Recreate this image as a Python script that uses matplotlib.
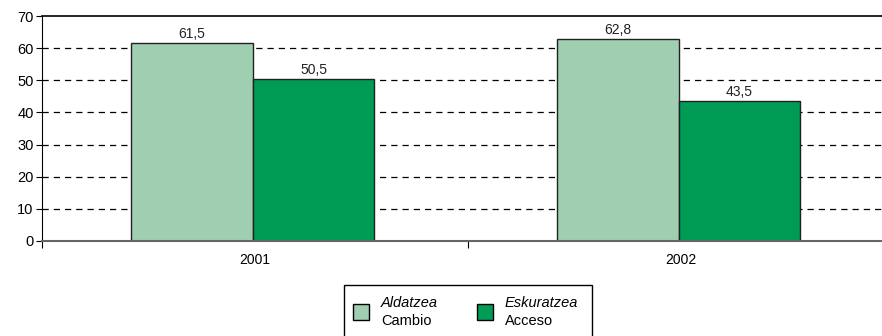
import matplotlib.pyplot as plt
from matplotlib.patches import Rectangle

years = ['2001', '2002']
cambio = [61.5, 62.8]
acceso = [50.5, 43.5]
labels_eu = ['Aldatzea', 'Eskuratzea']
labels_es = ['Cambio', 'Acceso']
color_light = '#9fcfb0'
color_dark = '#009b55'

plt.rcParams['font.family'] = ['Liberation Sans', 'DejaVu Sans']
plt.rcParams['font.size'] = 10

fig = plt.figure(figsize=(8.82, 3.36), dpi=100)
ax = fig.add_axes([42 / 882, 95 / 336, 852 / 882, 225 / 336])

x = list(range(len(years)))
w = 0.285
b1 = ax.bar([i - w / 2 - 0.005 for i in x], cambio, w, color=color_light, edgecolor='#222222', linewidth=1, zorder=3)
b2 = ax.bar([i + w / 2 - 0.005 for i in x], acceso, w, color=color_dark, edgecolor='#222222', linewidth=1, zorder=3)

for bars, vals in [(b1, cambio), (b2, acceso)]:
    for r, v in zip(bars, vals):
        ax.text(r.get_x() + r.get_width() / 2, v + 0.6, f'{v:.1f}'.replace('.', ','),
                ha='center', va='bottom', fontsize=10, color='#222222')

ax.set_ylim(0, 70)
ax.set_xlim(-0.5, 1.5)
ax.set_yticks(range(0, 80, 10))
for yv in range(10, 70, 10):
    ax.axhline(yv, color='black', linestyle=(0, (5, 4)), linewidth=0.9, zorder=1)

ax.set_xticks([-0.5, 0.5])
ax.set_xticklabels([])
ax.set_xticks(x, minor=True)
ax.set_xticklabels(years, minor=True)
ax.tick_params(axis='x', which='minor', length=0, pad=9)
ax.tick_params(axis='x', which='major', length=5, direction='out')
ax.tick_params(axis='y', length=4, direction='out', pad=2, labelsize=10.5)

ax.spines['right'].set_visible(False)
ax.spines['top'].set_linewidth(1.2)
ax.spines['bottom'].set_color('#666666')
ax.spines['bottom'].set_linewidth(1.5)
ax.spines['bottom'].set_zorder(4)

# leyenda dibujada a mano (dos lineas, la primera en cursiva)
W, H = 882, 336
def fx(px):
    return px / W
def fy(py):
    return 1 - py / H

fig.patches.append(Rectangle((fx(344), fy(345)), fx(592) - fx(344), fy(285) - fy(345),
                             transform=fig.transFigure, facecolor='white', edgecolor='black', linewidth=1))
for sx, tx, col, eu, es in [(353, 381, color_light, labels_eu[0], labels_es[0]),
                            (477, 505, color_dark, labels_eu[1], labels_es[1])]:
    fig.patches.append(Rectangle((fx(sx), fy(320)), fx(16), 16 / H, transform=fig.transFigure,
                                 facecolor=col, edgecolor='black', linewidth=1))
    fig.text(fx(tx), fy(303), eu, style='italic', va='center', ha='left', fontsize=10.5)
    fig.text(fx(tx), fy(321), es, va='center', ha='left', fontsize=10.5)

fig.savefig('out.png', dpi=100)
